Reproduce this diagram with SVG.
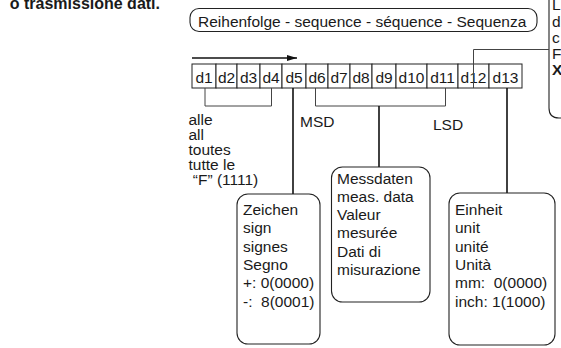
<svg xmlns="http://www.w3.org/2000/svg" width="561" height="348" viewBox="0 0 561 348">
<style>
text{font-family:"Liberation Sans",Arial,Helvetica,sans-serif;font-size:15.5px;fill:#1a1a1a;white-space:pre}
.title{font-weight:bold;font-size:16px}
.cell rect{fill:#fff;stroke:#222;stroke-width:1}
.cell text{text-anchor:middle}
.box{fill:#fff;stroke:#222;stroke-width:1.1}
.br{fill:none;stroke:#444;stroke-width:1}
.ln{fill:none;stroke:#111;stroke-width:1.6}
</style>
<defs>
<marker id="ah" viewBox="0 0 10 6" refX="10" refY="3" markerWidth="10" markerHeight="6" markerUnits="userSpaceOnUse" orient="auto">
<path d="M0,0 L10,3 L0,6 Z" fill="#111"/>
</marker>
</defs>
<text class="title" x="160" y="9" text-anchor="end">o trasmissione dati.</text>
<g id="sequence">
<rect class="box" x="190" y="8.5" width="347" height="23" rx="9"/>
<text x="198" y="26.5">Reihenfolge - sequence - séquence - Sequenza</text>
</g>
<g id="sidebox">
<path class="box" d="M549,-2 V108 Q549,118 559,118 H563"/>
<text x="552" y="10">L</text>
<text x="552" y="27">d</text>
<text x="552" y="43">c</text>
<text x="552" y="59">F</text>
<text x="552" y="75" style="font-weight:bold">X</text>
</g>
<g id="cells">
<g class="cell" id="d1"><rect x="192" y="64" width="24" height="24"/><text x="204" y="82.5">d1</text></g>
<g class="cell" id="d2"><rect x="216" y="64" width="21" height="24"/><text x="226.5" y="82.5">d2</text></g>
<g class="cell" id="d3"><rect x="237" y="64" width="23" height="24"/><text x="248.5" y="82.5">d3</text></g>
<g class="cell" id="d4"><rect x="260" y="64" width="22" height="24"/><text x="271" y="82.5">d4</text></g>
<g class="cell" id="d5"><rect x="282" y="64" width="24" height="24"/><text x="294" y="82.5">d5</text></g>
<g class="cell" id="d6"><rect x="306" y="64" width="22" height="24"/><text x="317" y="82.5">d6</text></g>
<g class="cell" id="d7"><rect x="328" y="64" width="22" height="24"/><text x="339" y="82.5">d7</text></g>
<g class="cell" id="d8"><rect x="350" y="64" width="22" height="24"/><text x="361" y="82.5">d8</text></g>
<g class="cell" id="d9"><rect x="372" y="64" width="24" height="24"/><text x="384" y="82.5">d9</text></g>
<g class="cell" id="d10"><rect x="396" y="64" width="31" height="24"/><text x="411.5" y="82.5">d10</text></g>
<g class="cell" id="d11"><rect x="427" y="64" width="31" height="24"/><text x="442.5" y="82.5">d11</text></g>
<g class="cell" id="d12"><rect x="458" y="64" width="31" height="24"/><text x="473.5" y="82.5">d12</text></g>
<g class="cell" id="d13"><rect x="489" y="64" width="33" height="24"/><text x="505.5" y="82.5">d13</text></g>
</g>
<g id="connectors">
<line class="ln" x1="192" y1="58" x2="297" y2="58" stroke-width="1.3" marker-end="url(#ah)"/>
<path class="br" d="M205,88 V106 H271.5 V88"/>
<path class="br" d="M315.5,88 V106 H445.5 V88"/>
<path class="ln" d="M379,106 V167"/>
<path class="ln" d="M293,88 V194"/>
<path class="ln" d="M507,88 V193"/>
<path class="br" d="M473.5,88 V49.5 H549"/>
</g>
<g id="labels">
<text x="188.5" y="125">alle</text>
<text x="188.5" y="140">all</text>
<text x="188.5" y="155">toutes</text>
<text x="188.5" y="170">tutte le</text>
<text x="188.5" y="185"> “F” (1111)</text>
<text x="300" y="127">MSD</text>
<text x="433" y="130">LSD</text>
</g>
<g id="sign">
<rect class="box" x="237" y="194" width="83" height="150" rx="11"/>
<text x="243" y="215">Zeichen</text>
<text x="243" y="233.3">sign</text>
<text x="243" y="251.7">signes</text>
<text x="243" y="270">Segno</text>
<text x="243" y="288.3">+: 0(0000)</text>
<text x="243" y="306.7">-:  8(0001)</text>
</g>
<g id="data">
<rect class="box" x="331.5" y="167" width="98.5" height="135" rx="11"/>
<text x="337" y="183.5">Messdaten</text>
<text x="337" y="201.8">meas. data</text>
<text x="337" y="220">Valeur</text>
<text x="337" y="238.3">mesurée</text>
<text x="337" y="256.7">Dati di</text>
<text x="337" y="275">misurazione</text>
</g>
<g id="unit">
<rect class="box" x="449" y="193" width="106" height="152" rx="11"/>
<text x="455" y="215">Einheit</text>
<text x="455" y="233.3">unit</text>
<text x="455" y="251.7">unité</text>
<text x="455" y="270">Unità</text>
<text x="455" y="288.3">mm:  0(0000)</text>
<text x="455" y="306.7">inch: 1(1000)</text>
</g>
</svg>
